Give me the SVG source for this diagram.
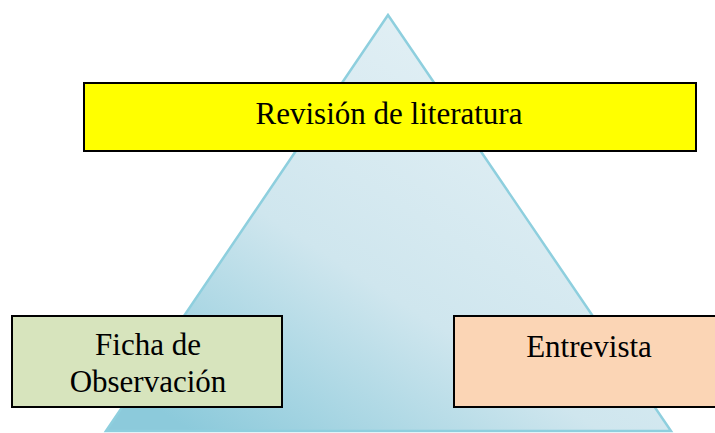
<svg xmlns="http://www.w3.org/2000/svg" width="715" height="433" viewBox="0 0 715 433">
<style>
.box{stroke:#000;stroke-width:2}
.lbl{font-family:"Liberation Serif","Times New Roman",serif;font-size:31px;fill:#000;text-anchor:middle}
</style>
<defs>
<linearGradient id="tg" x1="0.15" y1="1" x2="0.85" y2="0.2">
<stop offset="0" stop-color="#8ccadb"/>
<stop offset="0.45" stop-color="#cfe6ee"/>
<stop offset="1" stop-color="#e3f0f5"/>
</linearGradient>
</defs>
<rect width="715" height="433" fill="#fff"/>
<g id="triangle">
<polygon points="388,15 106,431 671,431" fill="url(#tg)" stroke="#8ecfde" stroke-width="2.5"/>
</g>
<g id="connectors"></g>
<g id="revision">
<rect class="box" x="84" y="83" width="612" height="68" fill="#ffff00"/>
<text class="lbl" x="389" y="124">Revisión de literatura</text>
</g>
<g id="ficha">
<rect class="box" x="12" y="316" width="270" height="91" fill="#d7e4bd"/>
<text class="lbl" x="148" y="355">Ficha de</text>
<text class="lbl" x="148" y="392">Observación</text>
</g>
<g id="entrevista">
<rect class="box" x="454" y="316" width="262" height="91" fill="#fbd5b5"/>
<text class="lbl" x="589" y="357">Entrevista</text>
</g>
</svg>
